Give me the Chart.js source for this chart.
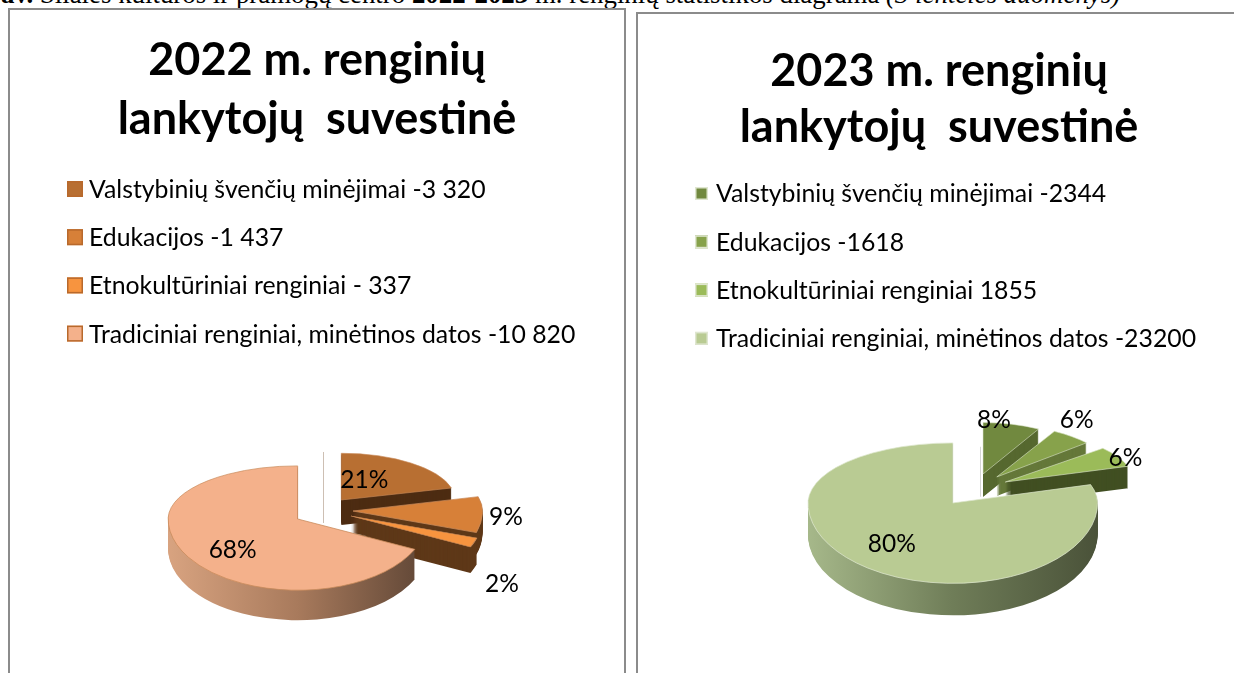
<!DOCTYPE html>
<html lang="lt">
<head>
<meta charset="utf-8">
<title>Renginių lankytojų suvestinė</title>
<script src="https://cdn.jsdelivr.net/npm/chart.js@4"></script>
<style>
html,body{margin:0;padding:0;background:#fff;width:1234px;height:673px;overflow:hidden}
#caption{position:absolute;left:-34px;top:-21px;font:26.85px/30px "Liberation Serif",serif;color:#000;white-space:nowrap}
.panel{position:absolute;box-sizing:border-box;border:2px solid #8b8b8b;background:#fff}
canvas{position:absolute;left:0;top:0;display:block}
</style>
</head>
<body>
<div id="caption"><b>3 pav.</b> Šilalės kultūros ir pramogų centro <b>2022-2023</b> m. renginių statistikos diagrama <i>(3 lentelės duomenys)</i></div>
<div class="panel" style="left:8px;top:8px;width:618px;height:700px"><canvas id="c1" width="614" height="663"></canvas></div>
<div class="panel" style="left:636px;top:12px;width:640px;height:700px"><canvas id="c2" width="602" height="659"></canvas></div>
<script>
// ---- data ----
const categories = ["Valstybinių švenčių minėjimai", "Edukacijos", "Etnokultūriniai renginiai", "Tradiciniai renginiai, minėtinos datos"];
const values2022 = [3320, 1437, 337, 10820];
const values2023 = [2344, 1618, 1855, 23200];
const legendText2022 = ["Valstybinių švenčių minėjimai -3 320", "Edukacijos -1 437", "Etnokultūriniai renginiai - 337", "Tradiciniai renginiai, minėtinos datos -10 820"];
const legendText2023 = ["Valstybinių švenčių minėjimai -2344", "Edukacijos -1618", "Etnokultūriniai renginiai 1855", "Tradiciniai renginiai, minėtinos datos -23200"];
const title2022 = ["2022 m. renginių", "lankytojų  suvestinė"];
const title2023 = ["2023 m. renginių", "lankytojų  suvestinė"];

// ---- styles ----
const fonts = "Lato, 'Noto Sans', sans-serif";
const style2022 = {
  top: ["#b86f32", "#d78038", "#f7943f", "#f4b18b"],
  side: ["#4d2c12", "#5e3818", "#5e3818", null],
  rim: ["#d8a380", "#a87a5c", "#5e4535"],
  edge: "#c98a5a", swatchEdge: "#b8692c",
  shiftX: 6, explode: 30, kExplode: 0.47, kTop: [0.41, 0.43, 0.41, 0.41], kBottom: 0.55,
  sliceScale: [0.88, 1.0, 1.02, 1.0], depth: [25, 22, 26, 30],
  labelNudge: [[23,-20],[153,6],[151,68],[-65,31]],
  seam: {dx: 0, top: -59, bottom: 12, color: "#cdbfb3"},
  legend: {swatchX: 57, swatchY: 171, swatch: 16, textX: 79, step: 48.2, font: 24.8},
  pad: {bottom: 32}, titleFont: 45, titleLine: 1.333, titlePad: {top: 20, bottom: 231}
};
const style2023 = {
  top: ["#71893f", "#87a24b", "#9bbb59", "#b9cb93"],
  side: ["#56682f", "#65783a", "#414f22", null],
  rim: ["#a6b88a", "#6f7d58", "#4a5239"],
  edge: "#dce5cb", swatchEdge: "#dfe6d0",
  shiftX: 35, explode: 36, kExplode: 0.45, kTop: [0.45, 0.44, 0.40, 0.415], kBottom: 0.555,
  sliceScale: [0.79, 0.82, 0.89, 1.0], depth: [23, 19, 22, 32],
  labelNudge: [[11,-54],[80,-57],[120,-24],[-61,41]],
  seam: {dx: 6, top: -43, bottom: 7, color: "#d5d5d5"},
  legend: {swatchX: 57, swatchY: 173, swatch: 13, textX: 78, step: 48.3, font: 24.8},
  pad: {bottom: 38}, titleFont: 45, titleLine: 1.25, titlePad: {top: 29, bottom: 189}
};

// ---- tilted, exploded pie: draws the library's arc elements with a 3D look ----
function sliceFrame(arc, i, st) {
  const mid = (arc.startAngle + arc.endAngle) / 2;
  return {
    ax: arc.x + st.shiftX + Math.cos(mid) * st.explode,
    ay: Math.round(arc.y + Math.sin(mid) * st.explode * st.kExplode),
    s: st.sliceScale[i], kTop: st.kTop[i]
  };
}
function paintArc(ctx, chart, arc, f, st, dy) {
  [[0, f.ay + dy, f.kTop], [f.ay + dy, chart.height - f.ay, st.kBottom]].forEach(([y0, h, k]) => {
    ctx.save();
    ctx.beginPath();
    ctx.rect(0, y0, chart.width, h);
    ctx.clip();
    ctx.translate(f.ax, f.ay + dy);
    ctx.scale(f.s, k * f.s);
    ctx.translate(-arc.x, -arc.y);
    arc.draw(ctx);
    ctx.restore();
  });
}
const pie3d = {
  id: "pie3d",
  beforeDatasetDraw(chart) {
    const st = chart.options.plugins.pie3d.st, ctx = chart.ctx;
    const arcs = chart.getDatasetMeta(0).data;
    const cx = arcs[0].x + st.shiftX, cy = arcs[0].y;
    ctx.save();
    ctx.strokeStyle = st.seam.color; ctx.lineWidth = 1;
    ctx.beginPath();
    ctx.moveTo(Math.round(cx + st.seam.dx) + .5, cy + st.seam.top);
    ctx.lineTo(Math.round(cx + st.seam.dx) + .5, cy + st.seam.bottom);
    ctx.stroke();
    ctx.restore();
    arcs.forEach((arc, i) => {
      const f = sliceFrame(arc, i, st), saved = arc.options;
      let fill = st.side[i];
      if (!fill) {
        const r = arc.outerRadius;
        fill = ctx.createLinearGradient(arc.x - r, 0, arc.x + r, 0);
        st.rim.forEach((c, j) => fill.addColorStop(j / (st.rim.length - 1), c));
      }
      arc.options = Object.assign({}, saved, {backgroundColor: fill, borderWidth: 0});
      for (let d = st.depth[i]; d >= 1; d--) paintArc(ctx, chart, arc, f, st, d);
      arc.options = saved;
      paintArc(ctx, chart, arc, f, st, 0);
    });
    return false;
  },
  afterDatasetsDraw(chart) {
    const st = chart.options.plugins.pie3d.st, ctx = chart.ctx;
    const ds = chart.data.datasets[0].data;
    const total = ds.reduce((a, b) => a + b, 0);
    ctx.save();
    ctx.fillStyle = "#000"; ctx.textAlign = "center"; ctx.textBaseline = "middle";
    ctx.font = "24.5px " + fonts;
    chart.getDatasetMeta(0).data.forEach((arc, i) => {
      const f = sliceFrame(arc, i, st);
      ctx.fillText(Math.round(ds[i] / total * 100) + "%", f.ax + st.labelNudge[i][0], f.ay + st.labelNudge[i][1]);
    });
    // legend
    const L = st.legend;
    ctx.textAlign = "left";
    ctx.font = L.font + "px " + fonts;
    chart.options.plugins.pie3d.text.forEach((t, i) => {
      const y = L.swatchY + i * L.step;
      ctx.fillStyle = st.top[i];
      ctx.fillRect(L.swatchX, y, L.swatch, L.swatch);
      ctx.strokeStyle = st.swatchEdge; ctx.lineWidth = 1.5;
      ctx.strokeRect(L.swatchX + .75, y + .75, L.swatch - 1.5, L.swatch - 1.5);
      ctx.fillStyle = "#000";
      ctx.fillText(t, L.textX, y + L.swatch / 2 + 1);
    });
    ctx.restore();
  }
};

function makeChart(id, values, titleLines, legendText, st) {
  new Chart(document.getElementById(id), {
    type: "pie",
    data: {labels: categories, datasets: [{data: values, backgroundColor: st.top, borderColor: st.edge, borderWidth: 1}]},
    plugins: [pie3d],
    options: {
      responsive: false, animation: false,
      layout: {padding: st.pad},
      plugins: {
        legend: {display: false}, tooltip: {enabled: false},
        title: {display: true, text: titleLines, color: "#000", padding: st.titlePad,
                font: {family: fonts, weight: "bold", size: st.titleFont, lineHeight: st.titleLine}},
        pie3d: {st: st, text: legendText}
      }
    }
  });
}
makeChart("c1", values2022, title2022, legendText2022, style2022);
makeChart("c2", values2023, title2023, legendText2023, style2023);
</script>
</body>
</html>
